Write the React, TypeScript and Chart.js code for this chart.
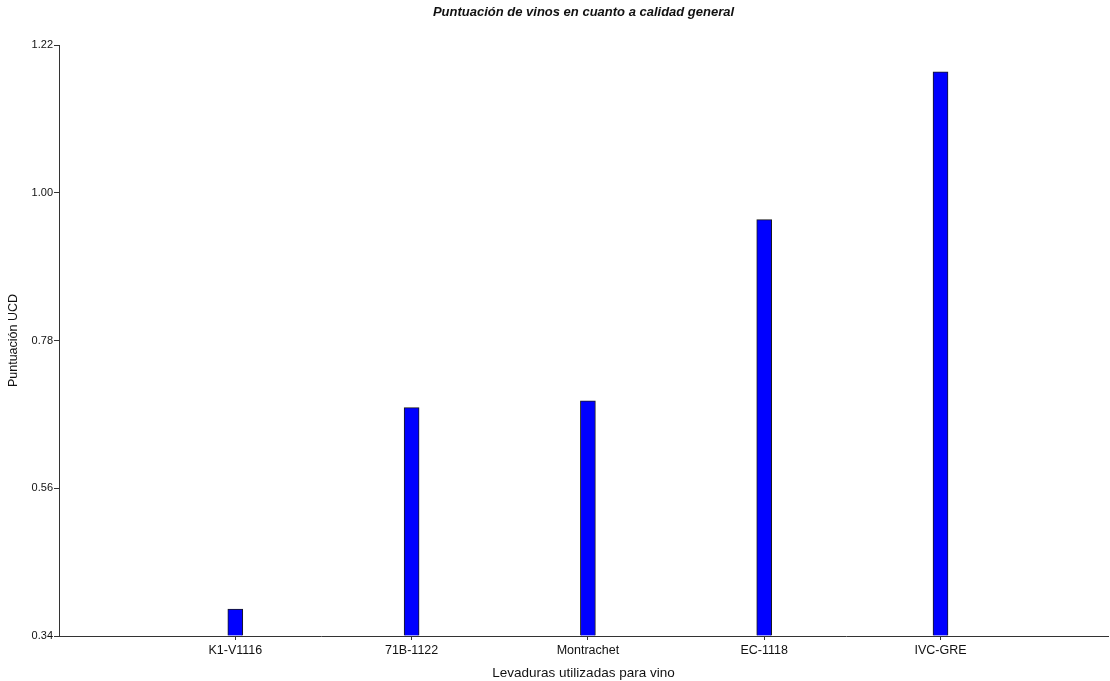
import React, { useEffect, useRef } from "react";
import { Chart, registerables } from "chart.js";

Chart.register(...registerables);

const chartTitle = "Puntuación de vinos en cuanto a calidad general";
const categories = ["K1-V1116", "71B-1122", "Montrachet", "EC-1118", "IVC-GRE"];
const scores = [0.38, 0.68, 0.69, 0.96, 1.18];
const yTicks = [0.34, 0.56, 0.78, 1.0, 1.22];

const FONT = "'Liberation Sans', Arial, sans-serif";

const plotTitlePlugin = {
  id: "plotTitle",
  afterDraw(chart: any) {
    const { ctx, chartArea } = chart;
    ctx.save();
    ctx.font = `italic bold 13px ${FONT}`;
    ctx.fillStyle = "#111";
    ctx.textAlign = "center";
    ctx.textBaseline = "middle";
    ctx.fillText(chartTitle, (chartArea.left + chartArea.right) / 2, 12);
    ctx.restore();
  },
};

export default function App() {
  const ref = useRef<HTMLCanvasElement | null>(null);
  useEffect(() => {
    document.body.style.margin = "0";
    const canvas = ref.current!;
    const chart = new Chart(canvas, {
      type: "bar",
      data: {
        datasets: [
          {
            data: categories.map((c, i) => ({ x: i + 1, y: scores[i] })),
            backgroundColor: "#0000ff",
            borderColor: "#1a1a1a",
            borderWidth: 1,
            barThickness: 15,
            base: 0.34,
          } as any,
        ],
      },
      plugins: [plotTitlePlugin],
      options: {
        responsive: false,
        animation: false,
        layout: { padding: { left: 0, right: 2, top: 45, bottom: 0 } },
        plugins: {
          legend: { display: false },
          tooltip: { enabled: false },
          title: { display: false },
        },
        scales: {
          x: {
            type: "linear",
            offset: false,
            min: 0,
            max: 5.95,
            afterBuildTicks: (scale: any) => {
              scale.ticks = categories.map((_, i) => ({ value: i + 1 }));
            },
            afterFit: (scale: any) => {
              scale.height = 45;
            },
            ticks: {
              autoSkip: false,
              maxRotation: 0,
              padding: 3,
              color: "#111",
              font: { family: FONT, size: 12.5 },
              callback: (v: any) => categories[Number(v) - 1] ?? "",
            },
            grid: { display: true, offset: false, drawOnChartArea: false, drawTicks: true, tickLength: 4, color: "#333" },
            border: { display: true, color: "#333", width: 1 },
            title: {
              display: true,
              text: "Levaduras utilizadas para vino",
              color: "#111",
              font: { family: FONT, size: 13.5 },
              padding: { top: 3, bottom: 0 },
            },
          },
          y: {
            type: "linear",
            min: 0.34,
            max: 1.22,
            afterBuildTicks: (scale: any) => {
              scale.ticks = yTicks.map((v) => ({ value: v }));
            },
            afterFit: (scale: any) => {
              scale.width = 59;
            },
            ticks: {
              padding: 1,
              color: "#111",
              font: { family: FONT, size: 11 },
              callback: (v: any) => Number(v).toFixed(2),
            },
            grid: { display: true, drawOnChartArea: false, drawTicks: true, tickLength: 5, color: "#333" },
            border: { display: true, color: "#333", width: 1 },
            title: {
              display: true,
              text: "Puntuación UCD",
              color: "#111",
              font: { family: FONT, size: 12.5 },
              padding: { top: 6.5, bottom: 0 },
            },
          },
        },
      } as any,
    });
    return () => chart.destroy();
  }, []);
  return <canvas ref={ref} width={1110} height={681} style={{ display: "block" }} />;
}
